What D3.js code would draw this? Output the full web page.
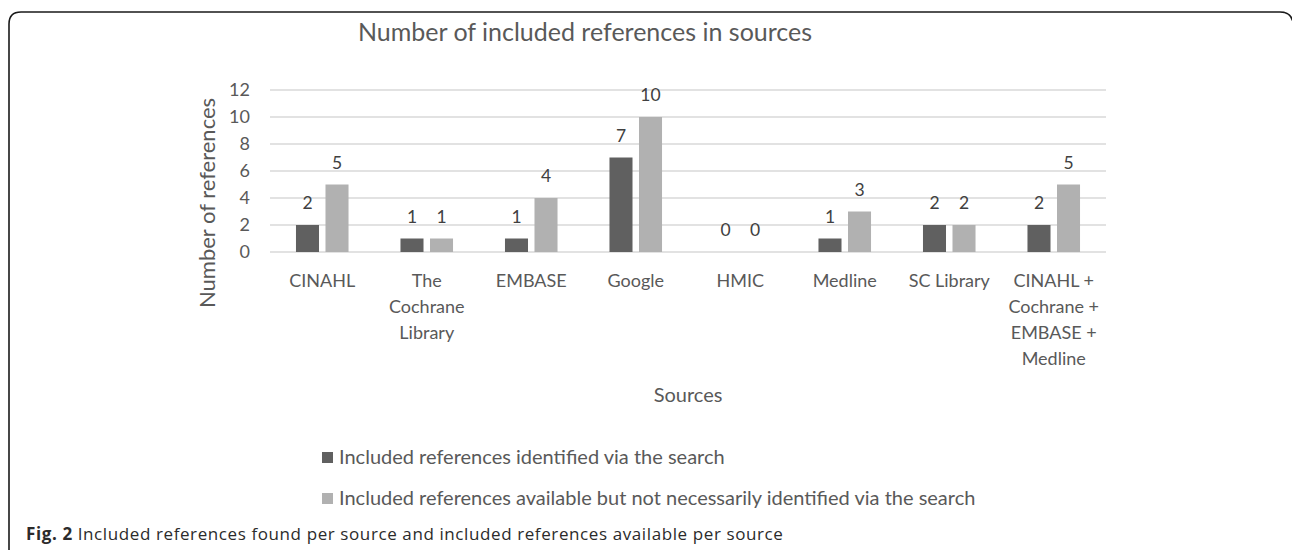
<!DOCTYPE html>
<html lang="en">
<head>
<meta charset="UTF-8">
<title>Number of included references in sources</title>
<script src="https://cdn.jsdelivr.net/npm/d3@7"></script>
<style>
    body { margin: 0; background: #fff; }
    svg { display: block; }
    text { font-family: Lato, "Noto Sans", sans-serif; }
</style>
</head>
<body>
<div id="container"></div>
<script>
    // data
    const sources = [
        ["CINAHL"],
        ["The", "Cochrane", "Library"],
        ["EMBASE"],
        ["Google"],
        ["HMIC"],
        ["Medline"],
        ["SC Library"],
        ["CINAHL +", "Cochrane +", "EMBASE +", "Medline"]
    ];
    const seriesNames = [
        "Included references identified via the search",
        "Included references available but not necessarily identified via the search"
    ];
    const identified = [2, 1, 1, 7, 0, 1, 2, 2];
    const available = [5, 1, 4, 10, 0, 3, 2, 5];
    const yTicks = [0, 2, 4, 6, 8, 10, 12];
    const colors = ["#606060", "#b1b1b1"];

    const W = 1292, H = 550;
    const svg = d3.select("#container").append("svg")
        .attr("width", W).attr("height", H);

    // frame (top + left border, rounded corners)
    svg.append("path")
        .attr("d", "M9,552 L9,24 Q9,12 21,12 L1280,12 Q1291,12 1293,22")
        .attr("fill", "none")
        .attr("stroke", "#1a1a1a")
        .attr("stroke-width", 1.6);

    const pLeft = 270, pRight = 1106, pTop = 90, pBottom = 252;
    const idx = sources.map((d, i) => i);

    const x0 = d3.scaleBand().domain(idx).range([pLeft, pRight]).padding(0);
    const x1 = d3.scaleBand().domain([0, 1]).range([0, x0.bandwidth()])
        .paddingInner(0.22).paddingOuter(0.88);
    const y = d3.scaleLinear().domain([0, 12]).range([pBottom, pTop]);

    // gridlines
    svg.append("g").selectAll("line").data(yTicks).join("line")
        .attr("x1", pLeft).attr("x2", pRight)
        .attr("y1", d => y(d)).attr("y2", d => y(d))
        .attr("stroke", "#d9d9d9").attr("stroke-width", 1.3);

    // y axis labels
    const yAxis = svg.append("g")
        .attr("transform", `translate(${pLeft},0)`)
        .call(d3.axisLeft(y).tickValues(yTicks).tickSize(0).tickPadding(20));
    yAxis.select(".domain").remove();
    yAxis.selectAll("text")
        .style("font-family", "Lato, sans-serif")
        .attr("font-size", 18).attr("fill", "#595959");

    // bars
    const series = [identified, available];
    series.forEach((vals, s) => {
        svg.append("g").selectAll("rect").data(vals).join("rect")
            .attr("x", (d, i) => x0(i) + x1(s))
            .attr("y", d => y(d))
            .attr("width", x1.bandwidth())
            .attr("height", d => y(0) - y(d))
            .attr("fill", colors[s]);
        svg.append("g").selectAll("text").data(vals).join("text")
            .attr("x", (d, i) => x0(i) + x1(s) + x1.bandwidth() / 2)
            .attr("y", d => y(d) - 16)
            .attr("text-anchor", "middle")
            .attr("font-size", 17.5)
            .attr("fill", "#404040")
            .text(d => d);
    });

    // category labels
    const xl = svg.append("g").selectAll("text").data(sources).join("text")
        .attr("x", (d, i) => x0(i) + x0.bandwidth() / 2)
        .attr("y", 287)
        .attr("text-anchor", "middle")
        .attr("font-size", 18)
        .attr("fill", "#595959");
    xl.selectAll("tspan").data(d => d).join("tspan")
        .attr("x", function() { return d3.select(this.parentNode).attr("x"); })
        .attr("dy", (d, i) => i === 0 ? 0 : 26)
        .text(d => d);

    // titles
    svg.append("text")
        .attr("x", 585).attr("y", 41)
        .attr("text-anchor", "middle")
        .attr("font-size", 25).attr("fill", "#595959")
        .text("Number of included references in sources");

    svg.append("text")
        .attr("x", (pLeft + pRight) / 2).attr("y", 402)
        .attr("text-anchor", "middle")
        .attr("font-size", 20).attr("fill", "#595959")
        .text("Sources");

    svg.append("text")
        .attr("transform", "translate(215,203) rotate(-90)")
        .attr("text-anchor", "middle")
        .attr("font-size", 22).attr("fill", "#595959")
        .text("Number of references");

    // legend
    const lg = svg.append("g").selectAll("g").data(seriesNames).join("g")
        .attr("transform", (d, i) => `translate(322,${452 + i * 41})`);
    lg.append("rect").attr("width", 11).attr("height", 11)
        .attr("fill", (d, i) => colors[i]);
    lg.append("text").attr("x", 17).attr("y", 12)
        .attr("font-size", 20).attr("fill", "#595959")
        .text(d => d);

    // caption
    const cap = svg.append("text")
        .attr("x", 26).attr("y", 540)
        .attr("font-size", 17).attr("fill", "#2b2b2b")
        .attr("letter-spacing", 0.6)
        .style("font-family", "'Open Sans', 'Noto Sans', sans-serif");
    cap.append("tspan").attr("font-weight", "bold").text("Fig. 2");
    cap.append("tspan").text(" Included references found per source and included references available per source");
</script>
</body>
</html>
